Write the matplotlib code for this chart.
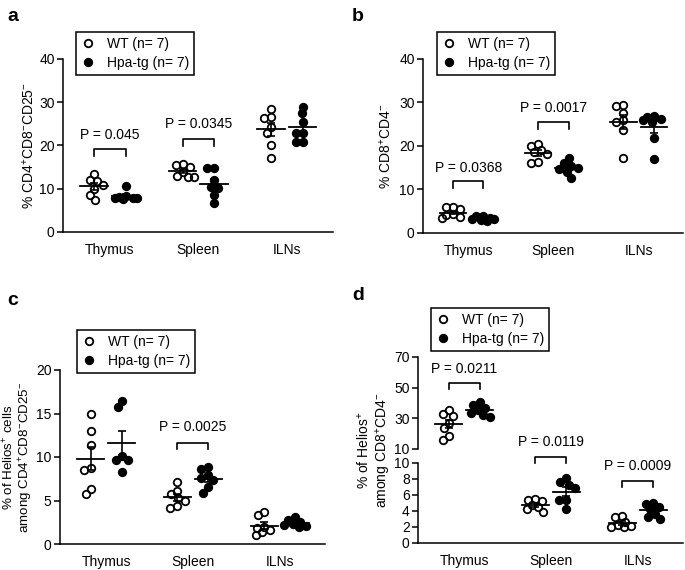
import numpy as np
import matplotlib
matplotlib.use('Agg')
import matplotlib.pyplot as plt
from matplotlib.lines import Line2D

plt.rcParams['font.family'] = ['Liberation Sans', 'DejaVu Sans']
plt.rcParams['mathtext.fontset'] = 'custom'
plt.rcParams['mathtext.rm'] = 'Liberation Sans'
plt.rcParams['font.size'] = 10
plt.rcParams['axes.linewidth'] = 1.1

CATS = ['Thymus', 'Spleen', 'ILNs']
GROUPS = ['WT (n= 7)', 'Hpa-tg (n= 7)']

# (a) % CD4+CD8-CD25-
A_WT = [[13.4, 12.0, 11.8, 10.9, 9.9, 8.5, 7.3],
        [15.5, 15.7, 15.0, 13.9, 12.8, 12.7, 12.9],
        [28.5, 26.6, 26.4, 24.3, 23.0, 20.2, 17.0]]
A_TG = [[10.7, 8.3, 8.0, 7.9, 7.8, 7.7, 7.8],
        [14.7, 14.7, 12.0, 10.5, 10.1, 8.5, 6.6],
        [29.0, 27.4, 25.5, 22.8, 22.8, 20.9, 20.9]]
A_P = ['0.045', '0.0345', None]

# (b) % CD8+CD4-
B_WT = [[6.0, 5.9, 5.5, 4.3, 4.1, 3.6, 3.4],
        [20.5, 20.1, 19.0, 18.7, 18.2, 16.4, 16.1],
        [29.5, 29.1, 27.6, 26.0, 25.5, 23.7, 17.2]]
B_TG = [[4.0, 3.8, 3.5, 3.3, 3.2, 3.0, 2.8],
        [17.2, 16.0, 15.4, 15.0, 14.8, 14.0, 12.7],
        [27.0, 26.7, 26.3, 26.0, 25.6, 21.8, 17.0]]
B_P = ['0.0368', '0.0017', None]

# (c) % Helios+ among CD4+CD8-CD25-
C_WT = [[15.0, 13.0, 11.4, 8.7, 8.5, 6.3, 5.7],
        [7.1, 6.1, 5.7, 5.3, 5.0, 4.4, 4.1],
        [3.7, 3.3, 2.0, 1.8, 1.6, 1.4, 1.0]]
C_TG = [[15.7, 16.4, 10.1, 9.6, 9.6, 8.3],
        [8.9, 8.6, 7.9, 7.6, 7.3, 6.5, 5.9],
        [3.1, 2.8, 2.5, 2.3, 2.2, 2.1, 2.0]]
C_P = [None, '0.0025', None]

# (d) % Helios+ among CD8+CD4-
D_WT = [[35.3, 33.0, 31.5, 27.0, 24.0, 18.4, 15.8],
        [5.5, 5.4, 5.2, 4.8, 4.5, 4.2, 3.9],
        [3.4, 3.2, 2.6, 2.3, 2.1, 2.0, 2.0]]
D_TG = [[40.5, 39.0, 37.0, 35.5, 33.5, 32.0, 31.0],
        [8.1, 7.6, 7.3, 6.9, 5.4, 5.4, 4.3],
        [5.0, 4.9, 4.5, 4.2, 3.6, 3.3, 3.0]]
D_P = ['0.0211', '0.0119', '0.0009']

OFF = 0.178   # half distance between WT and Hpa-tg columns
MS = 5.4


def swarm(ax, x0, vals, diam=7.0, maxw=11.0):
    """compact scatter: spread points sideways (pixel space), overlap allowed"""
    placed, xs = [], np.zeros(len(vals))
    inv = ax.transData.inverted()
    cands = np.arange(-maxw, maxw + 0.01, 1.0)
    for i in np.argsort(vals)[::-1]:
        px0, py = ax.transData.transform((x0, vals[i]))
        best, bcost = 0.0, None
        for c in cands:
            cost = 0.004 * c * c
            for qx, qy in placed:
                d = np.hypot(px0 + c - qx, py - qy)
                cost += max(0.0, diam - d) ** 2
            if bcost is None or cost < bcost:
                best, bcost = c, cost
        placed.append((px0 + best, py))
        xs[i] = inv.transform((px0 + best, py))[0]
    return xs


def group(ax, x0, vals, filled):
    vals = np.asarray(vals, float)
    xs = swarm(ax, x0, vals)
    ax.plot(xs, vals, 'o', ms=MS, mew=1.3, mec='black',
            mfc='black' if filled else 'none', ls='none', clip_on=False, zorder=3)
    m = vals.mean(); sem = vals.std(ddof=1) / np.sqrt(len(vals))
    ax.plot([x0 - 0.155, x0 + 0.155], [m, m], color='black', lw=1.3, zorder=4)
    ax.errorbar(x0, m, yerr=sem, fmt='none', ecolor='black', elinewidth=1.2,
                capsize=3.2, capthick=1.2, zorder=4)


def bracket(ax, i, p, top, leg, ty):
    ax.plot([i - OFF, i - OFF, i + OFF, i + OFF], [leg, top, top, leg],
            color='black', lw=1.2, clip_on=False)
    ax.text(i, ty, 'P = ' + p, ha='center', va='center', fontsize=10)


def style(ax, ylim, ticks, xlim=(-0.53, 2.52)):
    ax.set_xlim(*xlim); ax.set_ylim(*ylim)
    ax.set_yticks(ticks)
    ax.spines[['top', 'right']].set_visible(False)
    ax.tick_params(axis='y', length=4, width=1.1, direction='out', labelsize=10, pad=2)
    ax.tick_params(axis='x', length=0, labelsize=10, pad=8)
    ax.set_xticks([0, 1, 2]); ax.set_xticklabels(CATS)


def legend(ax, fig, x, y):
    h = [Line2D([], [], marker='o', ls='none', ms=MS, mew=1.3, mec='black', mfc='none'),
         Line2D([], [], marker='o', ls='none', ms=MS, mew=1.3, mec='black', mfc='black')]
    lg = ax.legend(h, GROUPS, loc='upper left', bbox_to_anchor=(x / 685, 1 - y / 570),
                   bbox_transform=fig.transFigure, fancybox=False, framealpha=1,
                   edgecolor='black', handlelength=1.0, handletextpad=0.9,
                   labelspacing=0.35, borderpad=0.35, borderaxespad=0, fontsize=10)
    lg.get_frame().set_linewidth(1.1)


fig = plt.figure(figsize=(6.85, 5.7), dpi=100)

def px_axes(l, r, t, b):
    return fig.add_axes([l / 685, 1 - b / 570, (r - l) / 685, (b - t) / 570])

panels = [
    ('a', px_axes(63, 333, 59, 232), A_WT, A_TG, A_P, (0, 40), [0, 10, 20, 30, 40],
     [(19.1, 17.6, 22.4), (21.4, 19.9, 24.9), None],
     r'% CD4$^{+}$CD8$^{-}$CD25$^{-}$', -0.097, (76, 32), 10),
    ('b', px_axes(423, 683, 59, 233), B_WT, B_TG, B_P, (0, 40), [0, 10, 20, 30, 40],
     [(11.9, 10.3, 14.9), (25.5, 24.0, 28.7), None],
     r'% CD8$^{+}$CD4$^{-}$', -0.112, (437, 32), 10),
    ('c', px_axes(60, 325, 370, 544), C_WT, C_TG, C_P, (0, 20), [0, 5, 10, 15, 20],
     [None, (11.6, 10.9, 13.4), None],
     '% of Helios$^{+}$ cells\namong CD4$^{+}$CD8$^{-}$CD25$^{-}$', -0.093, (77, 330), 9.6),
]

for letter, ax, wt, tg, ps, ylim, ticks, brs, ylab, lx, lpos, lfs in panels:
    style(ax, ylim, ticks)
    for i in range(3):
        group(ax, i - OFF, wt[i], False)
        group(ax, i + OFF, tg[i], True)
        if ps[i]:
            bracket(ax, i, ps[i], *brs[i])
    ax.set_ylabel(ylab, fontsize=lfs, linespacing=1.1)
    ax.yaxis.set_label_coords(lx, 0.5)
    legend(ax, fig, *lpos)

fig.text(7 / 685, 1 - 8 / 570, 'a', fontsize=14, weight='bold', va='top')
fig.text(352 / 685, 1 - 8 / 570, 'b', fontsize=14, weight='bold', va='top')
fig.text(7 / 685, 1 - 292 / 570, 'c', fontsize=14, weight='bold', va='top')
fig.text(352 / 685, 1 - 287 / 570, 'd', fontsize=14, weight='bold', va='top')

# (d) broken axis: thymus on top, spleen + ILNs below
dt = px_axes(418, 683, 357, 449)
db = px_axes(418, 683, 463, 543)
style(dt, (10, 70), [10, 30, 50, 70])
style(db, (0, 10), [0, 2, 4, 6, 8, 10])
dt.spines['bottom'].set_visible(False)
dt.tick_params(axis='x', labelbottom=False)
group(dt, -OFF, D_WT[0], False)
group(dt, OFF, D_TG[0], True)
for i in (1, 2):
    group(db, i - OFF, D_WT[i], False)
    group(db, i + OFF, D_TG[i], True)
bracket(dt, 0, D_P[0], 53.3, 49.0, 62.0)
bracket(db, 1, D_P[1], 10.8, 10.0, 12.6)
bracket(db, 2, D_P[2], 7.8, 7.05, 9.6)
legend(dt, fig, 431, 308)
fig.text(374 / 685, 1 - 450 / 570, '% of Helios$^{+}$\namong CD8$^{+}$CD4$^{-}$',
         rotation=90, ha='center', va='center', fontsize=10, linespacing=1.15)

fig.savefig('out.png', dpi=100, facecolor='white')
